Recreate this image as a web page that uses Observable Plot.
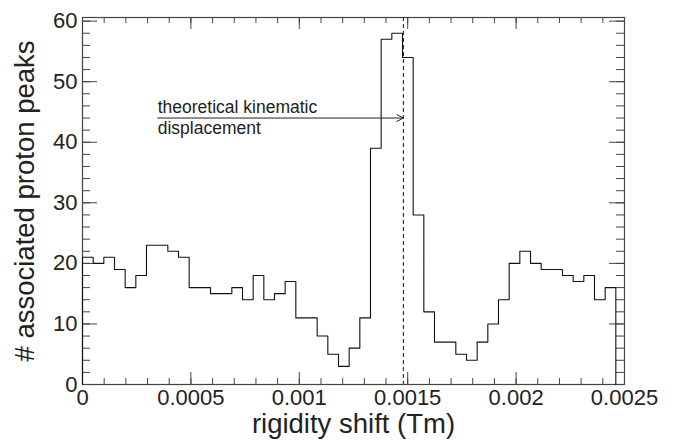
<!DOCTYPE html>
<html><head><meta charset="utf-8">
<script src="https://cdn.jsdelivr.net/npm/d3@7"></script>
<script src="https://cdn.jsdelivr.net/npm/@observablehq/plot@0.6"></script>
<style>body{margin:0;background:#fff;} svg{display:block;}</style>
</head><body><div id="chart"></div>
<script>
// Histogram bin counts (50 bins)
const counts = [21,20,21,19,16,18,23,23,22,21,16,16,15,15,16,14,
                18,14,15,17,11,11,8,5,3,6,11,
                39,57,58,54,28,12,
                7,7,5,4,7,10,14,20,22,20,19,19,18,17,18,14,16];
const binStart = 0;
const binWidth = 0.0000492;

const xTickValues = [0, 0.0005, 0.001, 0.0015, 0.002, 0.0025];
const xTickLabels = ["0", "0.0005", "0.001", "0.0015", "0.002", "0.0025"];
const yTickValues = [0, 10, 20, 30, 40, 50, 60];
const yTickLabels = ["0", "10", "20", "30", "40", "50", "60"];
const xMinorCount = 26, xMinorStep = 0.0001;
const yMinorCount = 31, yMinorStep = 2;

const markerX = 0.00148;
const arrowStartX = 0.000347;
const arrowY = 44;
const annotationLines = ["theoretical kinematic", "displacement"];
const annotationY = [45.8, 42.3];

const xTitle = "rigidity shift (Tm)";
const yTitle = "# associated proton peaks";

// build step outline
const n = counts.length;
const steps = [{x: binStart, y: 0}]
  .concat(counts.map((c, i) => ({x: binStart + i * binWidth, y: c})))
  .concat([{x: binStart + n * binWidth, y: counts[n - 1]}, {x: binStart + n * binWidth, y: 0}]);

const xMinor = d3.range(xMinorCount).map(i => i * xMinorStep);
const yMinor = d3.range(yMinorCount).map(i => i * yMinorStep);

const W = 674, H = 441, mL = 82, mR = 50, mT = 17, mB = 57;
const innerH = H - mT - mB, innerW = W - mL - mR;
const frameColor = "#444";

const chart = Plot.plot({
  width: W, height: H,
  marginLeft: mL, marginRight: mR, marginTop: mT, marginBottom: mB,
  x: {domain: [0, 0.0025]},
  y: {domain: [0, 60.6]},
  style: {fontFamily: "'Liberation Sans', Arial, Helvetica, sans-serif", background: "white", color: "#222"},
  marks: [
    // ticks (inward, mirrored)
    Plot.tickX(xMinor, {x: d => d, insetTop: innerH - 6, stroke: frameColor}),
    Plot.tickX(xMinor, {x: d => d, insetBottom: innerH - 6, stroke: frameColor}),
    Plot.tickX(xTickValues, {x: d => d, insetTop: innerH - 12, stroke: frameColor}),
    Plot.tickX(xTickValues, {x: d => d, insetBottom: innerH - 12, stroke: frameColor}),
    Plot.tickY(yMinor, {y: d => d, insetRight: innerW - 8, stroke: frameColor}),
    Plot.tickY(yMinor, {y: d => d, insetLeft: innerW - 8, stroke: frameColor}),
    Plot.tickY(yTickValues, {y: d => d, insetRight: innerW - 15, stroke: frameColor}),
    Plot.tickY(yTickValues, {y: d => d, insetLeft: innerW - 15, stroke: frameColor}),
    Plot.axisX(xTickValues, {anchor: "bottom", tickSize: 0, tickPadding: 5, fontSize: 22,
      tickFormat: d => xTickLabels[xTickValues.indexOf(d)], label: null}),
    Plot.axisY(yTickValues, {anchor: "left", tickSize: 0, tickPadding: 5, fontSize: 22,
      tickFormat: d => yTickLabels[yTickValues.indexOf(d)], label: null}),
    Plot.frame({stroke: frameColor, strokeWidth: 1.2}),
    Plot.line(steps, {x: "x", y: "y", curve: "step-after", stroke: "#111", strokeWidth: 1.1}),
    Plot.ruleX([markerX], {stroke: "#111", strokeDasharray: "4,3"}),
    Plot.arrow([{x1: arrowStartX, x2: markerX, y: arrowY}], {x1: "x1", x2: "x2", y1: "y", y2: "y",
      headLength: 11, headAngle: 55, stroke: "#222", strokeWidth: 1}),
    Plot.text(annotationLines, {x: arrowStartX, y: (d, i) => annotationY[i], text: d => d,
      textAnchor: "start", lineAnchor: "middle", fontSize: 17.5, fill: "#222"}),
    Plot.text([xTitle], {frameAnchor: "bottom", dy: 40, text: d => d, lineAnchor: "middle",
      textAnchor: "middle", fontSize: 27.5, fill: "#222"}),
    Plot.text([yTitle], {frameAnchor: "left", rotate: -90, dx: -57, text: d => d, lineAnchor: "middle",
      textAnchor: "middle", fontSize: 27.5, fill: "#222"})
  ]
});
document.getElementById("chart").appendChild(chart);
</script>
</body></html>
